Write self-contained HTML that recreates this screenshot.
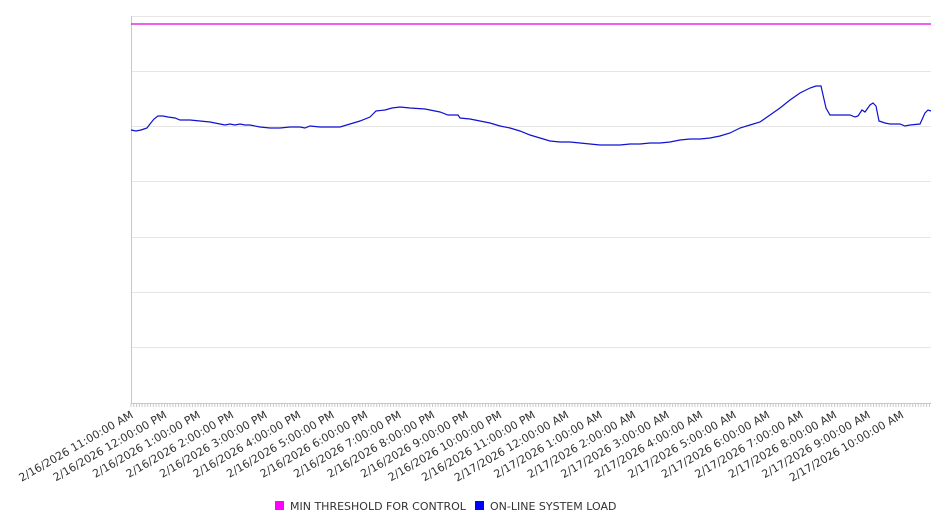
<!DOCTYPE html>
<html><head><meta charset="utf-8"><style>body{margin:0;background:#fff}svg{display:block}</style></head><body>
<svg width="946" height="526" xmlns="http://www.w3.org/2000/svg" font-family="DejaVu Sans, Liberation Sans, sans-serif">
<g stroke="#e6e6e6" stroke-width="1">
<line x1="131" y1="16.5" x2="931" y2="16.5"/><line x1="131" y1="71.5" x2="931" y2="71.5"/><line x1="131" y1="126.5" x2="931" y2="126.5"/><line x1="131" y1="181.5" x2="931" y2="181.5"/><line x1="131" y1="237.5" x2="931" y2="237.5"/><line x1="131" y1="292.5" x2="931" y2="292.5"/><line x1="131" y1="347.5" x2="931" y2="347.5"/>
</g>
<line x1="131.5" y1="16" x2="131.5" y2="403" stroke="#c8c8c8"/>
<line x1="131" y1="403.5" x2="931" y2="403.5" stroke="#c8c8c8"/>
<g id="ticks" stroke="#c8c8c8"></g>
<line x1="131" y1="24" x2="931" y2="24" stroke="#e000e0" stroke-width="1.2"/>
<polyline fill="none" stroke="#1010d0" stroke-width="1.2" points="131,130 136,131 141,130 144,129 147,128 150,124 154,119 158,116 163,116 168,117 175,118 180,120 190,120 200,121 210,122 220,124 225,125 230,124 235,125 240,124 245,125 250,125 260,127 270,128 280,128 290,127 300,127 305,128 310,126 320,127 340,127 350,124 360,121 370,117 376,111 385,110 392,108 400,107 410,108 425,109 440,112 448,115 458,115 460,118 470,119 480,121 490,123 500,126 510,128 520,131 530,135 540,138 550,141 560,142 570,142 580,143 590,144 600,145 610,145 620,145 630,144 640,144 650,143 660,143 670,142 680,140 690,139 700,139 710,138 720,136 730,133 740,128 750,125 760,122 770,115 780,108 790,100 800,93 810,88 816,86 821,86 826,108 830,115 835,115 845,115 850,115 855,117 858,116 862,110 865,112 870,105 873,103 876,106 879,121 885,123 890,124 900,124 905,126 910,125 920,124 925,113 928,110 931,111"/>
<g id="labels" font-size="11" fill="#333" text-anchor="end"></g>
<rect x="275" y="501" width="9" height="9" fill="#ff00ff"/>
<text x="290" y="510" font-size="11" fill="#333">MIN THRESHOLD FOR CONTROL</text>
<rect x="475" y="501" width="9" height="9" fill="#0000ff"/>
<text x="490" y="510" font-size="11" fill="#333">ON-LINE SYSTEM LOAD</text>
<script>
var ns="http://www.w3.org/2000/svg",t=document.getElementById("ticks"),l=document.getElementById("labels");
var step=33.5;
for(var i=0;i<=24*12;i++){var x=131+i*step/12;if(x>931)break;var e=document.createElementNS(ns,"line");e.setAttribute("x1",x);e.setAttribute("x2",x);e.setAttribute("y1",403);e.setAttribute("y2",407);t.appendChild(e);}
var hrs=["11:00:00 AM","12:00:00 PM","1:00:00 PM","2:00:00 PM","3:00:00 PM","4:00:00 PM","5:00:00 PM","6:00:00 PM","7:00:00 PM","8:00:00 PM","9:00:00 PM","10:00:00 PM","11:00:00 PM","12:00:00 AM","1:00:00 AM","2:00:00 AM","3:00:00 AM","4:00:00 AM","5:00:00 AM","6:00:00 AM","7:00:00 AM","8:00:00 AM","9:00:00 AM","10:00:00 AM"];
for(var i=0;i<24;i++){var x=131+i*step+3,y=417;var e=document.createElementNS(ns,"text");e.setAttribute("x",x);e.setAttribute("y",y);e.setAttribute("transform","rotate(-30 "+x+" "+y+")");e.textContent=(i<13?"2/16/2026 ":"2/17/2026 ")+hrs[i];l.appendChild(e);}
</script>
</svg>
</body></html>
